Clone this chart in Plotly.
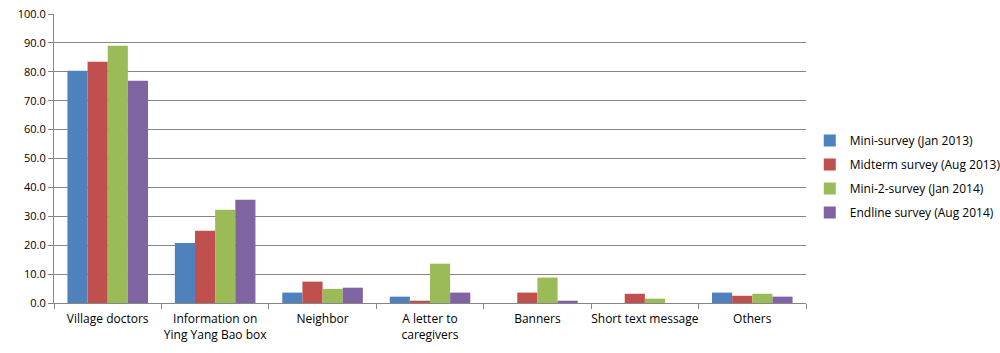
import plotly.graph_objects as go

categories = ["Village doctors", "Information on<br>Ying Yang Bao box", "Neighbor",
              "A letter to<br>caregivers", "Banners", "Short text message", "Others"]
series_names = ["Mini-survey (Jan 2013)", "Midterm survey (Aug 2013)",
                "Mini-2-survey (Jan 2014)", "Endline survey (Aug 2014)"]
mini_2013 = [80.4, 20.8, 3.6, 2.2, 0.0, 0.0, 3.6]
midterm_2013 = [83.5, 25.0, 7.4, 0.8, 3.6, 3.2, 2.5]
mini2_2014 = [89.0, 32.3, 4.9, 13.6, 8.8, 1.5, 3.2]
endline_2014 = [76.9, 35.7, 5.3, 3.6, 0.8, 0.0, 2.2]
colors = ["#4F81BD", "#C0504D", "#9BBB59", "#8064A2"]

fig = go.Figure()
for i, (name, vals, c) in enumerate(zip(series_names, [mini_2013, midterm_2013, mini2_2014, endline_2014], colors)):
    fig.add_trace(go.Bar(x=categories, y=vals, name=name, legendgroup=f"g{i}",
                         marker=dict(color=c, line=dict(width=0))))

fam = "Open Sans, Liberation Sans, Arial, sans-serif"
fig.update_layout(
    width=1000, height=353,
    margin=dict(l=54, r=194, t=14, b=50, autoexpand=False),
    paper_bgcolor="white", plot_bgcolor="white",
    barmode="group", bargap=0.25, bargroupgap=0,
    font=dict(family=fam, size=11, color="#000000"),
    legend=dict(x=1.005, y=0.438, xanchor="left", yanchor="middle",
                font=dict(family=fam, size=12),
                traceorder="grouped", tracegroupgap=5, itemwidth=30),
    xaxis=dict(showline=True, linecolor="#868686", linewidth=1, ticks="outside",
               tickson="boundaries", ticklen=5, tickcolor="#868686", showgrid=False,
               tickangle=0, ticklabelstandoff=5, tickfont=dict(family=fam, size=12)),
    yaxis=dict(range=[0, 100], dtick=10, tickformat=".1f", showline=True, linecolor="#868686",
               linewidth=1, ticks="outside", ticklen=5, tickcolor="#868686",
               showgrid=True, gridcolor="#868686", gridwidth=1, zeroline=False),
)
fig.write_html("out.html")
